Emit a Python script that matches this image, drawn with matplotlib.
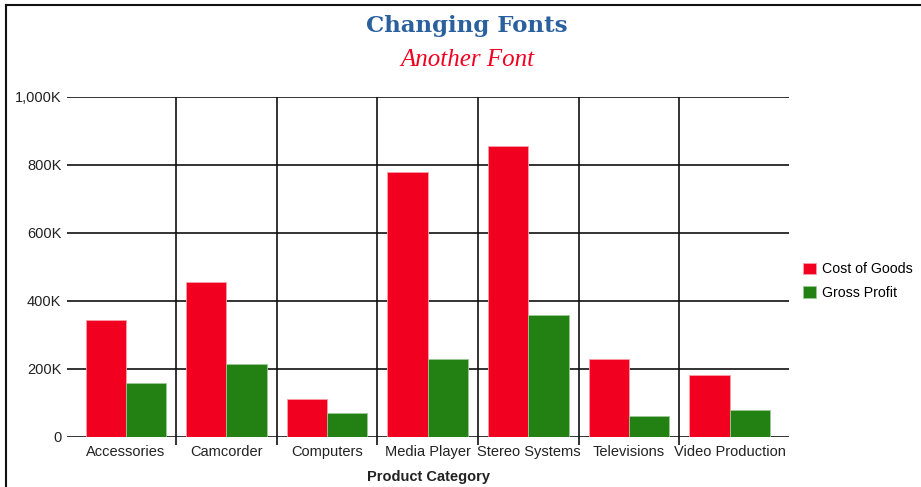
import matplotlib
matplotlib.use("Agg")
import matplotlib.pyplot as plt
import numpy as np
from matplotlib.lines import Line2D

categories = ["Accessories", "Camcorder", "Computers", "Media Player",
              "Stereo Systems", "Televisions", "Video Production"]
cost_of_goods = [345, 455, 111, 779, 857, 229, 182]   # thousands
gross_profit = [159, 215, 72, 230, 360, 61, 79]
y_ticks = [0, 200, 400, 600, 800, 1000]
y_labels = ["0", "200K", "400K", "600K", "800K", "1,000K"]

red = "#f2001f"
green = "#238012"

fig = plt.figure(figsize=(9.21, 4.87), dpi=100)
ax = fig.add_axes([67 / 921, 1 - 437 / 487, (789 - 67) / 921, (437 - 97) / 487])

x = np.arange(len(categories))
w = 0.4
ax.bar(x - w / 2, cost_of_goods, w, color=red, edgecolor="#f8a0aa", linewidth=0.6,
       label="Cost of Goods", zorder=3)
ax.bar(x + w / 2, gross_profit, w, color=green, edgecolor="#9cc896", linewidth=0.6,
       label="Gross Profit", zorder=3)

ax.set_xlim(-0.584, 6.59)
ax.set_ylim(0, 1000)
for s in ax.spines.values():
    s.set_visible(False)

ax.set_yticks(y_ticks)
ax.set_yticklabels(y_labels)
ax.set_xticks(x)
ax.set_xticklabels(categories)
ax.set_xticks(x[:-1] + 0.5, minor=True)
ax.tick_params(axis="x", which="major", length=0, pad=6, labelsize=10.5, labelcolor="#222222")
ax.tick_params(axis="x", which="minor", length=6, width=1.2, color="#111111")
ax.tick_params(axis="y", length=0, pad=4, labelsize=10.5, labelcolor="#222222")
ax.grid(axis="y", which="major", color="#111111", linewidth=1.2, zorder=1)
ax.grid(axis="x", which="minor", color="#111111", linewidth=1.2, zorder=1)
ax.set_axisbelow(True)

for lbl in ax.get_xticklabels() + ax.get_yticklabels():
    lbl.set_family("Liberation Sans")

ax.set_xlabel("Product Category", fontsize=10.5, fontweight="bold",
              family="Liberation Sans", color="#222222", labelpad=8)

fig.text(467 / 921, 1 - 26 / 487, "Changing Fonts", ha="center", va="center",
         fontsize=16.5, fontweight="bold", family="DejaVu Serif", color="#2b609e")
fig.text(467 / 921, 1 - 60 / 487, "Another Font", ha="center", va="center",
         fontsize=18, style="italic", family="Liberation Serif", color="#f2001f")

leg = ax.legend(loc="center left", bbox_to_anchor=(803 / 921, 1 - 281 / 487),
                bbox_transform=fig.transFigure, frameon=False, borderpad=0, borderaxespad=0,
                prop={"family": "Liberation Sans", "size": 10.2},
                handlelength=0.9, handleheight=0.9, handletextpad=0.45, labelspacing=0.65)

# frame lines on left and top edges
fig.add_artist(Line2D([6 / 921, 6 / 921], [0, 1 - 5 / 487], color="#111111", linewidth=1.5))
fig.add_artist(Line2D([6 / 921, 1], [1 - 5 / 487, 1 - 5 / 487], color="#111111", linewidth=1.5))

fig.savefig("out.png", dpi=100)
